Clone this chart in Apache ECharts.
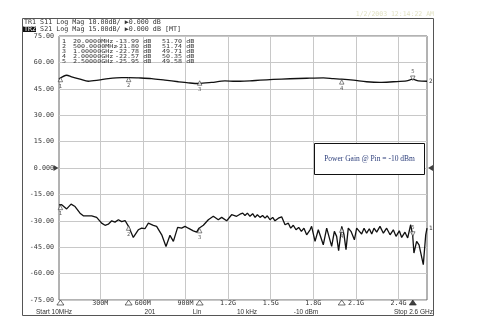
<!DOCTYPE html>
<html><head><meta charset="utf-8">
<script src="https://cdn.jsdelivr.net/npm/echarts@6/dist/echarts.min.js"></script>
<style>html,body{margin:0;padding:0;background:#fff}#c{width:478px;height:330px}</style>
</head><body><div id="c"></div>
<script>
// ---- data ----
const freqTicks = [300, 600, 900, 1200, 1500, 1800, 2100, 2400];
const freqTickLabels = ['300M', '600M', '900M', '1.2G', '1.5G', '1.8G', '2.1G', '2.4G'];
const yTicks = [-75, -60, -45, -30, -15, 0, 15, 30, 45, 60, 75];
const yTickLabels = ['-75.00', '-60.00', '-45.00', '-30.00', '-15.00', '0.000', '15.00', '30.00', '45.00', '60.00', '75.00'];

// S21 (TR2, 15 dB/div), frequency in MHz, value in dB
const s21Freq = [10, 64, 99, 158, 216, 287, 357, 451, 498, 568, 662, 756, 850, 920, 991, 1084, 1178, 1249, 1284, 1354, 1425, 1518, 1636, 1753, 1870, 1941, 2000, 2082, 2175, 2269, 2363, 2457, 2499, 2539, 2600];
const s21Val = [50.5, 52.7, 51.8, 50.5, 49.3, 49.9, 50.8, 51.4, 51.4, 51.2, 50.8, 49.9, 49.0, 48.4, 48.0, 48.6, 49.5, 49.3, 49.3, 49.5, 49.9, 50.3, 50.7, 51.0, 51.2, 50.8, 50.5, 49.9, 49.0, 48.6, 49.0, 49.5, 50.5, 49.5, 49.3];

// S11 (TR1, 10 dB/div)
const s11Freq = [10, 29, 64, 95, 123, 158, 181, 240, 275, 310, 334, 357, 381, 404, 428, 451, 475, 498, 533, 568, 592, 615, 639, 674, 697, 733, 763, 791, 815, 845, 873, 897, 920, 955, 979, 995, 1026, 1061, 1096, 1131, 1155, 1190, 1225, 1260, 1284,
  1303, 1319, 1336, 1354, 1373, 1390, 1406, 1425, 1443, 1460, 1476, 1495, 1514, 1530, 1554, 1577, 1601, 1624, 1641, 1659, 1678, 1697, 1716, 1734, 1753, 1777, 1788, 1812, 1835, 1847, 1870, 1894, 1906, 1929, 1948, 1964, 1978, 2000, 2016, 2030, 2046, 2065, 2089, 2105, 2124, 2140, 2157, 2175, 2194, 2211, 2227, 2246, 2269, 2293, 2316, 2340, 2363, 2382, 2405, 2422, 2445, 2464, 2485, 2499, 2508, 2527, 2544, 2555, 2574, 2591, 2600];
const s11Val = [-14.0, -13.9, -15.5, -13.7, -14.6, -17.1, -18.1, -18.1, -18.7, -20.9, -21.7, -21.3, -20.0, -20.5, -19.6, -20.3, -19.9, -22.0, -26.3, -23.4, -22.8, -23.0, -20.9, -21.7, -22.1, -25.3, -29.7, -25.5, -27.8, -22.5, -22.8, -22.1, -22.8, -23.8, -24.3, -22.8, -21.7, -19.6, -18.3, -19.6, -18.7, -20.0, -17.7, -18.3, -17.5,
  -17.1, -18.0, -17.1, -18.3, -17.3, -18.7, -17.7, -18.7, -18.0, -19.0, -18.1, -19.6, -18.7, -20.0, -19.0, -18.5, -21.5, -20.9, -22.8, -21.7, -23.4, -22.5, -24.0, -22.8, -25.3, -23.4, -22.1, -27.8, -23.4, -22.8, -29.1, -22.8, -23.4, -29.7, -24.0, -25.9, -31.3, -22.1, -25.3, -30.9, -22.8, -24.0, -27.2, -22.8, -24.0, -25.0, -22.8, -24.7, -23.0, -25.0, -22.8, -24.3, -22.1, -24.7, -22.8, -25.3, -23.4, -25.9, -23.8, -26.3, -24.3, -26.5, -21.5, -25.3, -32.2, -27.8, -29.1, -28.4, -36.6, -25.3, -22.8];

const markerNames = ['1', '2', '3', '4', '5'];
const markerFreq = [20, 500, 1000, 2000, 2500];
const markerFreqText = ['20.0000MHz', '500.0000MHz', '1.00000GHz', '2.00000GHz', '2.50000GHz'];
const markerS11 = [-13.99, -21.80, -22.78, -22.57, -25.95];
const markerS21 = [51.70, 51.74, 49.71, 50.35, 49.58];

const headerTR1 = 'S11 Log Mag 10.00dB/ \u25B60.000 dB';
const headerTR2 = 'S21 Log Mag 15.00dB/ \u25B60.000 dB [MT]';
const dateText = '1/2/2003 12:14:22 AM';
const footerTexts = ['Start 10MHz', '201', 'Lin', '10 kHz', '-10 dBm', 'Stop 2.6 GHz'];
const noteText = 'Power Gain @ Pin = -10 dBm';

// ---- chart ----
const MONO = '"DejaVu Sans Mono", monospace';
const chart = echarts.init(document.getElementById('c'), null, { renderer: 'canvas' });
const G = { left: 59, top: 36, width: 368, height: 264 };

const fmtDb = v => v.toFixed(2) + ' dB';
const graphics = [
  { type: 'rect', shape: { x: 22.5, y: 18.5, width: 411, height: 297 }, style: { fill: 'none', stroke: '#555', lineWidth: 1 }, z: 1 },
  { type: 'text', x: 24, y: 22.5, style: { text: 'TR1 ' + headerTR1, font: '6.7px ' + MONO, fill: '#333', verticalAlign: 'middle' }, z: 10 },
  { type: 'rect', shape: { x: 23, y: 26.5, width: 13, height: 5.5 }, style: { fill: '#111' }, z: 9 },
  { type: 'text', x: 24, y: 29.3, style: { text: 'TR2', font: '6.7px ' + MONO, fill: '#fff', verticalAlign: 'middle' }, z: 10 },
  { type: 'text', x: 24 + 4 * 4.03, y: 29.3, style: { text: headerTR2, font: '6.7px ' + MONO, fill: '#333', verticalAlign: 'middle' }, z: 10 },
  { type: 'text', x: 434, y: 14, style: { text: dateText, font: '6.5px ' + MONO, fill: '#e2e2c4', align: 'right', verticalAlign: 'middle' }, z: 10 },
  // note box
  { type: 'rect', shape: { x: 314.5, y: 143.5, width: 110, height: 31 }, style: { fill: '#fff', stroke: '#111', lineWidth: 1 }, z: 20 },
  { type: 'text', x: 369.5, y: 159, style: { text: noteText, font: '7.5px "Liberation Serif", serif', fill: '#2b3d7a', align: 'center', verticalAlign: 'middle' }, z: 21 }
];
// marker table (narrow glyphs stretched horizontally to the instrument's column pitch)
markerNames.forEach((n, i) => {
  const y = 42 + i * 5;
  const f = '5.4px ' + MONO;
  const cols = [[62, n], [73, markerFreqText[i]], [115, fmtDb(markerS11[i])], [162, fmtDb(markerS21[i])]];
  cols.forEach(([x, t]) => {
    graphics.push({ type: 'text', x, y, scaleX: 1.24, style: { text: t, font: f, fill: '#333', verticalAlign: 'middle' }, z: 10 });
  });
});
// footer row
const footerX = [36, 150, 197, 247, 306, 433];
const footerAlign = ['left', 'center', 'center', 'center', 'center', 'right'];
footerTexts.forEach((t, i) => {
  graphics.push({ type: 'text', x: footerX[i], y: 312, style: { text: t, font: '6.5px "Liberation Sans", sans-serif', fill: '#333', align: footerAlign[i], verticalAlign: 'middle' }, z: 10 });
});

const markerLabelStyle = { show: true, fontSize: 5.5, fontFamily: MONO, color: '#333', distance: 1 };
function traceMarkers(vals, yAxisIndex) {
  return {
    type: 'scatter', yAxisIndex, z: 6, silent: true,
    symbol: 'triangle', symbolSize: [4.5, 4.5],
    itemStyle: { color: '#fff', borderColor: '#222', borderWidth: 0.7 },
    data: markerNames.map((n, i) => {
      const up = i === 4;
      return {
        name: n, value: [markerFreq[i], vals[i]],
        symbolRotate: up ? 180 : 0,
        symbolOffset: [0, up ? -2.5 : 2.5],
        label: Object.assign({}, markerLabelStyle, { position: up ? 'top' : 'bottom', formatter: n })
      };
    })
  };
}

const option = {
  animation: false,
  backgroundColor: '#fff',
  grid: Object.assign({ show: true, borderColor: '#666', borderWidth: 1, backgroundColor: 'transparent', containLabel: false }, G),
  xAxis: {
    type: 'value', min: 10, max: 2600,
    axisLine: { show: false },
    axisTick: { show: false, customValues: freqTicks },
    axisLabel: {
      customValues: freqTicks, margin: 0,
      fontFamily: MONO, fontSize: 6.7, color: '#333',
      formatter: v => freqTickLabels[freqTicks.indexOf(v)] || ''
    },
    splitLine: { show: true, lineStyle: { color: '#c8c8c8', width: 1 } }
  },
  yAxis: [
    {
      type: 'value', min: -75, max: 75, interval: 15,
      axisLine: { show: false }, axisTick: { show: false },
      axisLabel: {
        margin: 5, fontFamily: MONO, fontSize: 6.7, color: '#333',
        formatter: v => yTickLabels[yTicks.indexOf(v)] || ''
      },
      splitLine: { show: true, lineStyle: { color: '#c8c8c8', width: 1 } }
    },
    { type: 'value', min: -50, max: 50, interval: 10, show: false }
  ],
  graphic: graphics,
  series: [
    {
      type: 'line', name: 'S21', yAxisIndex: 0, z: 5, silent: true,
      data: s21Freq.map((f, i) => [f, s21Val[i]]),
      showSymbol: false, smooth: 0.3,
      lineStyle: { color: '#111', width: 1.3 },
      endLabel: { show: true, formatter: '2', fontSize: 6, fontFamily: MONO, color: '#333', distance: 2 }
    },
    {
      type: 'line', name: 'S11', yAxisIndex: 1, z: 5, silent: true,
      data: s11Freq.map((f, i) => [f, s11Val[i]]),
      showSymbol: false,
      lineStyle: { color: '#111', width: 1.3 },
      endLabel: { show: true, formatter: '1', fontSize: 6, fontFamily: MONO, color: '#333', distance: 2 }
    },
    traceMarkers(markerS21, 0),
    traceMarkers(markerS11, 1),
    // marker triangles on the frequency axis
    {
      type: 'scatter', yAxisIndex: 0, z: 7, silent: true, clip: false,
      symbol: 'triangle', symbolSize: [7, 5], symbolOffset: [0, 2.5],
      itemStyle: { color: '#fff', borderColor: '#222', borderWidth: 0.8 },
      data: markerFreq.map((f, i) => ({ value: [f, -75], itemStyle: i === 4 ? { color: '#111' } : undefined }))
    },
    // reference level arrows
    {
      type: 'scatter', yAxisIndex: 0, z: 7, silent: true, clip: false,
      symbol: 'triangle', symbolSize: [6, 5],
      itemStyle: { color: '#111' },
      data: [
        { value: [10, 0], symbolRotate: -90, symbolOffset: [-3, 0] },
        { value: [2600, 0], symbolRotate: 90, symbolOffset: [3.5, 0] }
      ]
    }
  ]
};
chart.setOption(option);
</script>
</body></html>
